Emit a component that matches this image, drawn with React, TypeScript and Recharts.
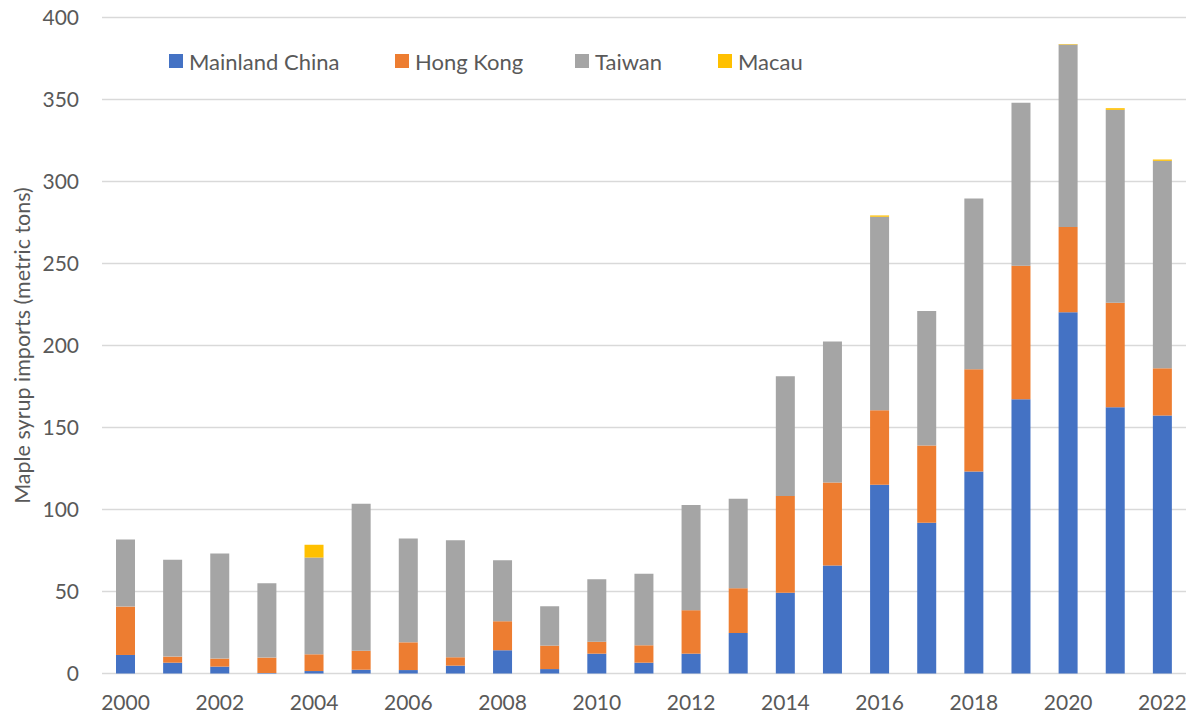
import { BarChart, Bar, XAxis, YAxis, CartesianGrid, Legend } from "recharts";

const years = [
  "2000", "2001", "2002", "2003", "2004", "2005", "2006", "2007", "2008", "2009", "2010", "2011",
  "2012", "2013", "2014", "2015", "2016", "2017", "2018", "2019", "2020", "2021", "2022",
];
const mainland = [
  11.3, 6.6, 4.2, 0.3, 1.5, 2.3, 2.1, 4.8, 14.2, 2.7, 12.1, 6.6,
  12.1, 24.7, 49.2, 65.8, 115.1, 91.9, 123.2, 167.2, 220.2, 162.3, 157.3,
];
const hongKong = [
  29.5, 3.7, 4.9, 9.4, 10.2, 11.6, 16.9, 5.1, 17.7, 14.3, 7.3, 10.6,
  26.5, 27.3, 59.0, 50.7, 45.4, 47.2, 62.3, 81.5, 52.0, 63.8, 28.8,
];
const taiwan = [
  40.9, 59.0, 64.1, 45.4, 59.0, 89.6, 63.3, 71.4, 37.2, 24.0, 38.1, 43.6,
  64.1, 54.6, 73.0, 86.0, 118.0, 81.9, 104.1, 99.3, 111.3, 117.6, 126.5,
];
const macau = [
  0, 0, 0, 0, 7.8, 0, 0, 0, 0, 0, 0, 0,
  0, 0, 0, 0, 0.8, 0, 0, 0, 0.3, 1.0, 0.8,
];
const yTicks = [0, 50, 100, 150, 200, 250, 300, 350, 400];

const series = [
  { key: "mainland", name: "Mainland China", color: "#4472c4" },
  { key: "hongKong", name: "Hong Kong", color: "#ed7d31" },
  { key: "taiwan", name: "Taiwan", color: "#a5a5a5" },
  { key: "macau", name: "Macau", color: "#ffc000" },
];

const data = years.map((year, i) => ({
  year,
  mainland: mainland[i],
  hongKong: hongKong[i],
  taiwan: taiwan[i],
  macau: macau[i],
}));

const FONT = "Lato, 'Open Sans', sans-serif";
const TEXT = "#595959";

// legend item left edges, matched to the original layout
const legendLeft = [169, 395, 575, 718];

function ChartLegend() {
  return (
    <div style={{ position: "relative", width: 700, height: 26 }}>
      {series.map((s, i) => (
        <div
          key={s.key}
          style={{
            position: "absolute",
            left: legendLeft[i] - legendLeft[0],
            top: 0,
            display: "flex",
            alignItems: "center",
            height: 26,
            whiteSpace: "nowrap",
          }}
        >
          <span style={{ width: 14, height: 14, background: s.color, display: "inline-block", marginRight: 6 }} />
          <span style={{ color: TEXT, fontSize: 22, fontFamily: FONT }}>{s.name}</span>
        </div>
      ))}
    </div>
  );
}

export default function App() {
  return (
    <div style={{ position: "absolute", left: 0, top: 0, width: 1194, height: 717, background: "#fff", fontFamily: FONT }}>
      <BarChart width={1194} height={717} data={data} margin={{ top: 17.5, right: 8, left: 0, bottom: 0 }}>
        <CartesianGrid vertical={false} stroke="#d9d9d9" strokeWidth={1.5} />
        <XAxis
          dataKey="year"
          height={43.5}
          interval={1}
          axisLine={false}
          tickLine={false}
          tickSize={0}
          tickMargin={22}
          tick={{ fill: TEXT, fontSize: 21, fontFamily: FONT }}
        />
        <YAxis
          width={102}
          domain={[0, 400]}
          ticks={yTicks}
          axisLine={false}
          tickLine={false}
          tickSize={0}
          tickMargin={23}
          tick={{ fill: TEXT, fontSize: 21, fontFamily: FONT }}
          label={{
            value: "Maple syrup imports (metric tons)",
            angle: -90,
            position: "center",
            dx: -29,
            style: { fill: TEXT, fontSize: 21.5, fontFamily: FONT },
          }}
        />
        <Legend
          verticalAlign="middle"
          align="center"
          layout="horizontal"
          content={() => <ChartLegend />}
          wrapperStyle={{ position: "absolute", left: 169, top: 48, width: 700 }}
        />
        {series.map((s) => (
          <Bar key={s.key} dataKey={s.key} name={s.name} stackId="a" fill={s.color} barSize={19} isAnimationActive={false} />
        ))}
      </BarChart>
    </div>
  );
}
